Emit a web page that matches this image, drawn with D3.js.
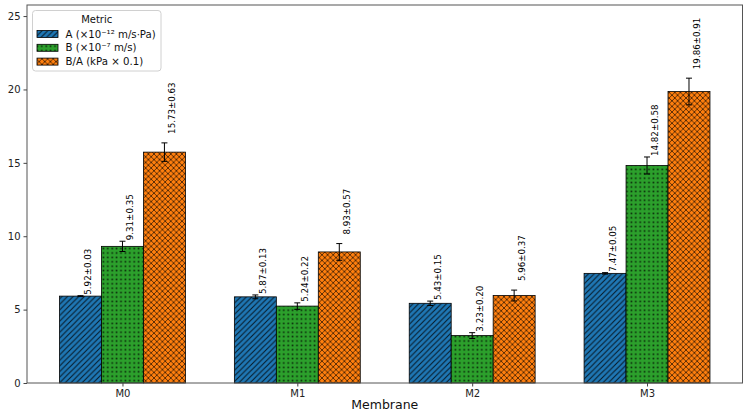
<!DOCTYPE html>
<html>
<head>
<meta charset="utf-8">
<script src="https://cdn.jsdelivr.net/npm/d3@7"></script>
<style>
html,body{margin:0;padding:0;background:#fff;}
svg text{font-family:"DejaVu Sans",sans-serif;}
</style>
</head>
<body>
<svg id="chart" width="747" height="415"></svg>
<script>
// ---- data ----
const categories = ["M0", "M1", "M2", "M3"];
const seriesNames = ["A (×10⁻¹² m/s·Pa)", "B (×10⁻⁷ m/s)", "B/A (kPa × 0.1)"];
const valuesA = [5.92, 5.87, 5.43, 7.47];
const errorsA = [0.03, 0.13, 0.15, 0.05];
const valuesB = [9.31, 5.24, 3.23, 14.82];
const errorsB = [0.35, 0.22, 0.20, 0.58];
const valuesBA = [15.73, 8.93, 5.96, 19.86];
const errorsBA = [0.63, 0.57, 0.37, 0.91];
const yTicks = [0, 5, 10, 15, 20, 25];
const legendTitle = "Metric";
const xTitle = "Membrane";

// ---- styles ----
const colors = ["#1f77b4", "#2ca02c", "#ff7f0e"];
const patternIds = ["hatchDiag", "hatchDots", "hatchCross"];
const labelGap = [1, 1, 9];

const seriesVals = [valuesA, valuesB, valuesBA];
const seriesErrs = [errorsA, errorsB, errorsBA];

const plotL = 27, plotR = 742.5, plotT = 5, plotB = 383;
const barW = 0.24;

const svg = d3.select("#chart");
const defs = svg.append("defs");

// hatch patterns
function addPattern(id, color, drawFn, w, h) {
  const p = defs.append("pattern").attr("id", id)
    .attr("patternUnits", "userSpaceOnUse").attr("width", w).attr("height", h);
  p.append("rect").attr("width", w).attr("height", h).attr("fill", color);
  drawFn(p, w, h);
}
const hs = 5.6;
addPattern(patternIds[0], colors[0], (p, s) => {
  p.append("path")
    .attr("d", `M${-1},1 L1,-1 M0,${s} L${s},0 M${s-1},${s+1} L${s+1},${s-1}`)
    .attr("stroke", "#000").attr("stroke-width", 1).attr("stroke-opacity", 0.8);
}, hs, hs);
addPattern(patternIds[1], colors[1], (p, s) => {
  p.append("rect").attr("x", s/2 - 0.8).attr("y", s/2 - 0.8).attr("width", 1.6).attr("height", 1.6)
    .attr("fill", "#000").attr("fill-opacity", 0.75);
}, 4.4, 4.4);
addPattern(patternIds[2], colors[2], (p, s) => {
  p.append("path")
    .attr("d", `M${-1},1 L1,-1 M0,${s} L${s},0 M${s-1},${s+1} L${s+1},${s-1} M-1,${s-1} L1,${s+1} M0,0 L${s},${s} M${s-1},-1 L${s+1},1`)
    .attr("stroke", "#000").attr("stroke-width", 0.9).attr("stroke-opacity", 0.7);
}, hs, hs);

// scales
const idx = categories.map((d, i) => i);
const nS = seriesVals.length;
const xMinData = -nS / 2 * barW, xMaxData = (categories.length - 1) + nS / 2 * barW;
const xPad = 0.05 * (xMaxData - xMinData);
const x = d3.scaleLinear().domain([xMinData - xPad, xMaxData + xPad]).range([plotL, plotR]);
const maxTop = d3.max(seriesVals.flatMap((vs, s) => vs.map((v, i) => v + seriesErrs[s][i])));
const y = d3.scaleLinear().domain([0, maxTop * 1.24]).range([plotB, plotT]);

// bars
const g = svg.append("g");
seriesVals.forEach((vals, s) => {
  const errs = seriesErrs[s];
  const off = (s - (nS - 1) / 2) * barW;
  const gs = g.append("g");
  gs.selectAll("rect").data(idx).join("rect")
    .attr("x", i => x(i + off - barW / 2))
    .attr("width", i => x(i + off + barW / 2) - x(i + off - barW / 2))
    .attr("y", i => y(vals[i]))
    .attr("height", i => y(0) - y(vals[i]))
    .attr("fill", `url(#${patternIds[s]})`)
    .attr("stroke", "#000").attr("stroke-width", 0.8);
  gs.selectAll("path.err").data(idx).join("path").attr("class", "err")
    .attr("d", i => {
      const cx = x(i + off), y1 = y(vals[i] - errs[i]), y2 = y(vals[i] + errs[i]);
      return `M${cx},${y1}V${y2}M${cx-3},${y1}H${cx+3}M${cx-3},${y2}H${cx+3}`;
    })
    .attr("stroke", "#000").attr("stroke-width", 1).attr("fill", "none");
  gs.selectAll("text").data(idx).join("text")
    .attr("transform", i => `translate(${x(i + off) + 10.6},${y(vals[i] + errs[i]) - labelGap[s]}) rotate(-90)`)
    .attr("text-anchor", "start")
    .attr("font-size", 8.7)
    .attr("fill", "#000")
    .text(i => `${vals[i].toFixed(2)}±${errs[i].toFixed(2)}`);
});

// axes frame
svg.append("rect").attr("x", plotL).attr("y", plotT).attr("width", plotR - plotL).attr("height", plotB - plotT)
  .attr("fill", "none").attr("stroke", "#555").attr("stroke-width", 1);

const yAxis = svg.append("g").attr("transform", `translate(${plotL},0)`)
  .call(d3.axisLeft(y).tickValues(yTicks).tickSize(3.5).tickPadding(3).tickFormat(d3.format("d")));
yAxis.select(".domain").remove();
yAxis.selectAll("text").attr("font-size", 10).attr("fill", "#222").attr("font-family", "DejaVu Sans");
yAxis.selectAll("line").attr("stroke", "#444");

const xAxis = svg.append("g").attr("transform", `translate(0,${plotB})`)
  .call(d3.axisBottom(x).tickValues(idx).tickSize(3.5).tickPadding(3).tickFormat(i => categories[i]));
xAxis.select(".domain").remove();
xAxis.selectAll("text").attr("font-size", 10).attr("fill", "#222").attr("font-family", "DejaVu Sans");
xAxis.selectAll("line").attr("stroke", "#444");

svg.append("text").attr("x", (plotL + plotR) / 2).attr("y", 409)
  .attr("text-anchor", "middle").attr("font-size", 12.5).attr("fill", "#111").text(xTitle);

// legend
const lg = svg.append("g");
lg.append("rect").attr("x", 32.5).attr("y", 10.5).attr("width", 128.5).attr("height", 60.5).attr("rx", 3)
  .attr("fill", "#fff").attr("fill-opacity", 0.85).attr("stroke", "#d0d0d0").attr("stroke-width", 1);
lg.append("text").attr("x", 96.7).attr("y", 22.5).attr("text-anchor", "middle")
  .attr("font-size", 10).attr("fill", "#111").text(legendTitle);
seriesNames.forEach((name, s) => {
  const cy = 34 + s * 13.8;
  lg.append("rect").attr("x", 37).attr("y", cy - 3.5).attr("width", 21).attr("height", 7)
    .attr("fill", `url(#${patternIds[s]})`).attr("stroke", "#000").attr("stroke-width", 0.8);
  lg.append("text").attr("x", 65.5).attr("y", cy + 3.5).attr("font-size", 10.2).attr("fill", "#111").text(name);
});
</script>
</body>
</html>
